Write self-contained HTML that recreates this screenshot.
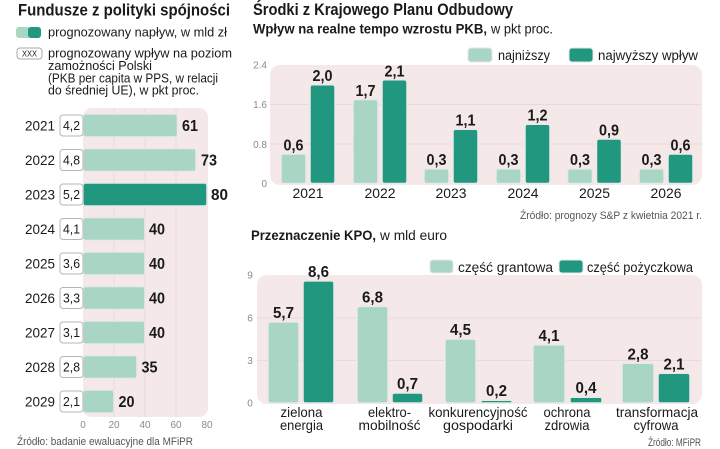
<!DOCTYPE html>
<html><head><meta charset="utf-8"><style>
html,body{margin:0;padding:0;background:#fff;}
svg{display:block;}
text{font-family:"Liberation Sans Narrow","Liberation Sans",sans-serif;fill:#1a1a1a;}
.b{font-weight:bold;}
.t{fill:#8a8a8a;font-size:10px;}
.s{fill:#555;font-size:11px;}
</style></head><body>
<svg width="720" height="449" viewBox="0 0 720 449" xmlns="http://www.w3.org/2000/svg">
<!-- LEFT PANEL -->
<text class="b" x="18" y="15.5" font-size="17" textLength="212" lengthAdjust="spacingAndGlyphs">Fundusze z polityki spójności</text>
<rect x="16" y="27" width="14" height="11" rx="3" fill="#a9d5c5"/>
<rect x="28" y="27" width="13" height="11" rx="3" fill="#20977e"/>
<text x="48" y="36.5" font-size="13" textLength="179" lengthAdjust="spacingAndGlyphs">prognozowany napływ, w mld zł</text>
<rect x="17" y="48" width="25" height="11" rx="3" fill="#fff" stroke="#aaa" stroke-width="1"/>
<text x="29.5" y="56.5" font-size="8" text-anchor="middle" textLength="15" lengthAdjust="spacingAndGlyphs">XXX</text>
<text x="48" y="57.5" font-size="13" textLength="184" lengthAdjust="spacingAndGlyphs">prognozowany wpływ na poziom</text>
<text x="48" y="70" font-size="13" textLength="104" lengthAdjust="spacingAndGlyphs">zamożności Polski</text>
<text x="48" y="82.3" font-size="13" textLength="170" lengthAdjust="spacingAndGlyphs">(PKB per capita w PPS, w relacji</text>
<text x="48" y="94.5" font-size="13" textLength="151" lengthAdjust="spacingAndGlyphs">do średniej UE), w pkt proc.</text>

<rect x="83" y="108" width="125" height="309" rx="9" fill="#f5e8e8"/>
<line x1="114" y1="108" x2="114" y2="417" stroke="#ecdada" stroke-width="1"/>
<line x1="145" y1="108" x2="145" y2="417" stroke="#ecdada" stroke-width="1"/>
<line x1="176" y1="108" x2="176" y2="417" stroke="#ecdada" stroke-width="1"/>

<g id="leftbars">
<!-- 2021 -->
<text x="25" y="130.5" font-size="13.5" textLength="30" lengthAdjust="spacingAndGlyphs">2021</text>
<rect x="83" y="114" width="94.5" height="23" rx="2.5" fill="#a9d5c5" stroke="#e9e9e9" stroke-width="1.5"/>
<rect x="60" y="115" width="23" height="21" rx="3" fill="#fff" stroke="#b5b5b5"/>
<text x="71.5" y="130" font-size="13" text-anchor="middle" textLength="17" lengthAdjust="spacingAndGlyphs">4,2</text>
<text class="b" x="182" y="131" font-size="16" textLength="16" lengthAdjust="spacingAndGlyphs">61</text>
<!-- 2022 -->
<text x="25" y="165" font-size="13.5" textLength="30" lengthAdjust="spacingAndGlyphs">2022</text>
<rect x="83" y="148.5" width="113" height="23" rx="2.5" fill="#a9d5c5" stroke="#e9e9e9" stroke-width="1.5"/>
<rect x="60" y="149.5" width="23" height="21" rx="3" fill="#fff" stroke="#b5b5b5"/>
<text x="71.5" y="164.5" font-size="13" text-anchor="middle" textLength="17" lengthAdjust="spacingAndGlyphs">4,8</text>
<text class="b" x="201" y="165.5" font-size="16" textLength="16" lengthAdjust="spacingAndGlyphs">73</text>
<!-- 2023 -->
<text x="25" y="199.5" font-size="13.5" textLength="30" lengthAdjust="spacingAndGlyphs">2023</text>
<rect x="83" y="183" width="124" height="23" rx="2.5" fill="#20977e" stroke="#e9e9e9" stroke-width="1.5"/>
<rect x="60" y="184" width="23" height="21" rx="3" fill="#fff" stroke="#b5b5b5"/>
<text x="71.5" y="199" font-size="13" text-anchor="middle" textLength="17" lengthAdjust="spacingAndGlyphs">5,2</text>
<text class="b" x="211" y="200" font-size="16" textLength="17" lengthAdjust="spacingAndGlyphs">80</text>
<!-- 2024 -->
<text x="25" y="234" font-size="13.5" textLength="30" lengthAdjust="spacingAndGlyphs">2024</text>
<rect x="83" y="217.5" width="62" height="23" rx="2.5" fill="#a9d5c5" stroke="#e9e9e9" stroke-width="1.5"/>
<rect x="60" y="218.5" width="23" height="21" rx="3" fill="#fff" stroke="#b5b5b5"/>
<text x="71.5" y="233.5" font-size="13" text-anchor="middle" textLength="17" lengthAdjust="spacingAndGlyphs">4,1</text>
<text class="b" x="149" y="234.5" font-size="16" textLength="16" lengthAdjust="spacingAndGlyphs">40</text>
<!-- 2025 -->
<text x="25" y="268.5" font-size="13.5" textLength="30" lengthAdjust="spacingAndGlyphs">2025</text>
<rect x="83" y="252" width="62" height="23" rx="2.5" fill="#a9d5c5" stroke="#e9e9e9" stroke-width="1.5"/>
<rect x="60" y="253" width="23" height="21" rx="3" fill="#fff" stroke="#b5b5b5"/>
<text x="71.5" y="268" font-size="13" text-anchor="middle" textLength="17" lengthAdjust="spacingAndGlyphs">3,6</text>
<text class="b" x="149" y="269" font-size="16" textLength="16" lengthAdjust="spacingAndGlyphs">40</text>
<!-- 2026 -->
<text x="25" y="303" font-size="13.5" textLength="30" lengthAdjust="spacingAndGlyphs">2026</text>
<rect x="83" y="286.5" width="62" height="23" rx="2.5" fill="#a9d5c5" stroke="#e9e9e9" stroke-width="1.5"/>
<rect x="60" y="287.5" width="23" height="21" rx="3" fill="#fff" stroke="#b5b5b5"/>
<text x="71.5" y="302.5" font-size="13" text-anchor="middle" textLength="17" lengthAdjust="spacingAndGlyphs">3,3</text>
<text class="b" x="149" y="303.5" font-size="16" textLength="16" lengthAdjust="spacingAndGlyphs">40</text>
<!-- 2027 -->
<text x="25" y="337.5" font-size="13.5" textLength="30" lengthAdjust="spacingAndGlyphs">2027</text>
<rect x="83" y="321" width="62" height="23" rx="2.5" fill="#a9d5c5" stroke="#e9e9e9" stroke-width="1.5"/>
<rect x="60" y="322" width="23" height="21" rx="3" fill="#fff" stroke="#b5b5b5"/>
<text x="71.5" y="337" font-size="13" text-anchor="middle" textLength="17" lengthAdjust="spacingAndGlyphs">3,1</text>
<text class="b" x="149" y="338" font-size="16" textLength="16" lengthAdjust="spacingAndGlyphs">40</text>
<!-- 2028 -->
<text x="25" y="372" font-size="13.5" textLength="30" lengthAdjust="spacingAndGlyphs">2028</text>
<rect x="83" y="355.5" width="54" height="23" rx="2.5" fill="#a9d5c5" stroke="#e9e9e9" stroke-width="1.5"/>
<rect x="60" y="356.5" width="23" height="21" rx="3" fill="#fff" stroke="#b5b5b5"/>
<text x="71.5" y="371.5" font-size="13" text-anchor="middle" textLength="17" lengthAdjust="spacingAndGlyphs">2,8</text>
<text class="b" x="141.5" y="372.5" font-size="16" textLength="16" lengthAdjust="spacingAndGlyphs">35</text>
<!-- 2029 -->
<text x="25" y="406.5" font-size="13.5" textLength="30" lengthAdjust="spacingAndGlyphs">2029</text>
<rect x="83" y="390" width="31" height="23" rx="2.5" fill="#a9d5c5" stroke="#e9e9e9" stroke-width="1.5"/>
<rect x="60" y="391" width="23" height="21" rx="3" fill="#fff" stroke="#b5b5b5"/>
<text x="71.5" y="406" font-size="13" text-anchor="middle" textLength="17" lengthAdjust="spacingAndGlyphs">2,1</text>
<text class="b" x="118.5" y="407" font-size="16" textLength="16" lengthAdjust="spacingAndGlyphs">20</text>
</g>
<text class="t" x="83" y="428" text-anchor="middle">0</text>
<text class="t" x="114" y="428" text-anchor="middle">20</text>
<text class="t" x="145" y="428" text-anchor="middle">40</text>
<text class="t" x="176" y="428" text-anchor="middle">60</text>
<text class="t" x="207" y="428" text-anchor="middle">80</text>
<text class="s" x="17" y="445" textLength="176" lengthAdjust="spacingAndGlyphs">Źródło: badanie ewaluacyjne dla MFiPR</text>

<!-- RIGHT TOP -->
<text class="b" x="253" y="15" font-size="17" textLength="260" lengthAdjust="spacingAndGlyphs">Środki z Krajowego Planu Odbudowy</text>
<text class="b" x="253" y="33.5" font-size="14" textLength="234" lengthAdjust="spacingAndGlyphs">Wpływ na realne tempo wzrostu PKB,</text>
<text x="491" y="33.5" font-size="14" textLength="62" lengthAdjust="spacingAndGlyphs">w pkt proc.</text>
<rect x="468" y="48" width="24" height="14" rx="3" fill="#a9d5c5" stroke="#e6e6e6"/>
<text x="498" y="60" font-size="13.5" textLength="52" lengthAdjust="spacingAndGlyphs">najniższy</text>
<rect x="569" y="48" width="24" height="14" rx="3" fill="#20977e" stroke="#e6e6e6"/>
<text x="598" y="60" font-size="13.5" textLength="100" lengthAdjust="spacingAndGlyphs">najwyższy wpływ</text>

<rect x="270" y="65" width="432" height="120" rx="10" fill="#f5e8e8"/>
<line x1="270" y1="104.5" x2="702" y2="104.5" stroke="#ecdada"/>
<line x1="270" y1="144" x2="702" y2="144" stroke="#ecdada"/>
<text class="t" x="267" y="68.5" text-anchor="end">2.4</text>
<text class="t" x="267" y="108" text-anchor="end">1.6</text>
<text class="t" x="267" y="148" text-anchor="end">0.8</text>
<text class="t" x="267" y="187" text-anchor="end">0</text>

<g>
<!-- 2021 -->
<rect x="281" y="154" width="25" height="29.5" rx="2.5" fill="#a9d5c5" stroke="#e9e9e9" stroke-width="1.5"/>
<rect x="310" y="84.7" width="25" height="98.8" rx="2.5" fill="#20977e" stroke="#e9e9e9" stroke-width="1.5"/>
<text class="b" x="293.5" y="150.5" font-size="16" text-anchor="middle" textLength="20" lengthAdjust="spacingAndGlyphs">0,6</text>
<text class="b" x="322.5" y="81.2" font-size="16" text-anchor="middle" textLength="20" lengthAdjust="spacingAndGlyphs">2,0</text>
<text x="308" y="198" font-size="14" text-anchor="middle" textLength="31" lengthAdjust="spacingAndGlyphs">2021</text>
<!-- 2022 -->
<rect x="353" y="99.5" width="25" height="84" rx="2.5" fill="#a9d5c5" stroke="#e9e9e9" stroke-width="1.5"/>
<rect x="382" y="79.8" width="25" height="103.7" rx="2.5" fill="#20977e" stroke="#e9e9e9" stroke-width="1.5"/>
<text class="b" x="365.5" y="96" font-size="16" text-anchor="middle" textLength="20" lengthAdjust="spacingAndGlyphs">1,7</text>
<text class="b" x="394.5" y="76.3" font-size="16" text-anchor="middle" textLength="20" lengthAdjust="spacingAndGlyphs">2,1</text>
<text x="380" y="198" font-size="14" text-anchor="middle" textLength="31" lengthAdjust="spacingAndGlyphs">2022</text>
<!-- 2023 -->
<rect x="424" y="168.7" width="25" height="14.8" rx="2.5" fill="#a9d5c5" stroke="#e9e9e9" stroke-width="1.5"/>
<rect x="453" y="129.2" width="25" height="54.3" rx="2.5" fill="#20977e" stroke="#e9e9e9" stroke-width="1.5"/>
<text class="b" x="436.5" y="165.2" font-size="16" text-anchor="middle" textLength="20" lengthAdjust="spacingAndGlyphs">0,3</text>
<text class="b" x="465.5" y="125.7" font-size="16" text-anchor="middle" textLength="20" lengthAdjust="spacingAndGlyphs">1,1</text>
<text x="451" y="198" font-size="14" text-anchor="middle" textLength="31" lengthAdjust="spacingAndGlyphs">2023</text>
<!-- 2024 -->
<rect x="496" y="168.7" width="25" height="14.8" rx="2.5" fill="#a9d5c5" stroke="#e9e9e9" stroke-width="1.5"/>
<rect x="525" y="124.2" width="25" height="59.3" rx="2.5" fill="#20977e" stroke="#e9e9e9" stroke-width="1.5"/>
<text class="b" x="508.5" y="165.2" font-size="16" text-anchor="middle" textLength="20" lengthAdjust="spacingAndGlyphs">0,3</text>
<text class="b" x="537.5" y="120.7" font-size="16" text-anchor="middle" textLength="20" lengthAdjust="spacingAndGlyphs">1,2</text>
<text x="523" y="198" font-size="14" text-anchor="middle" textLength="31" lengthAdjust="spacingAndGlyphs">2024</text>
<!-- 2025 -->
<rect x="567.5" y="168.7" width="25" height="14.8" rx="2.5" fill="#a9d5c5" stroke="#e9e9e9" stroke-width="1.5"/>
<rect x="596.5" y="139" width="25" height="44.5" rx="2.5" fill="#20977e" stroke="#e9e9e9" stroke-width="1.5"/>
<text class="b" x="580" y="165.2" font-size="16" text-anchor="middle" textLength="20" lengthAdjust="spacingAndGlyphs">0,3</text>
<text class="b" x="609" y="135.5" font-size="16" text-anchor="middle" textLength="20" lengthAdjust="spacingAndGlyphs">0,9</text>
<text x="594.5" y="198" font-size="14" text-anchor="middle" textLength="31" lengthAdjust="spacingAndGlyphs">2025</text>
<!-- 2026 -->
<rect x="639" y="168.7" width="25" height="14.8" rx="2.5" fill="#a9d5c5" stroke="#e9e9e9" stroke-width="1.5"/>
<rect x="668" y="154" width="25" height="29.5" rx="2.5" fill="#20977e" stroke="#e9e9e9" stroke-width="1.5"/>
<text class="b" x="651.5" y="165.2" font-size="16" text-anchor="middle" textLength="20" lengthAdjust="spacingAndGlyphs">0,3</text>
<text class="b" x="680.5" y="150.5" font-size="16" text-anchor="middle" textLength="20" lengthAdjust="spacingAndGlyphs">0,6</text>
<text x="666" y="198" font-size="14" text-anchor="middle" textLength="31" lengthAdjust="spacingAndGlyphs">2026</text>
</g>
<text class="s" x="702" y="219" font-size="10.5" text-anchor="end" textLength="182" lengthAdjust="spacingAndGlyphs">Źródło: prognozy S&amp;P z kwietnia 2021 r.</text>

<!-- RIGHT BOTTOM -->
<text class="b" x="251" y="240" font-size="14" textLength="125" lengthAdjust="spacingAndGlyphs">Przeznaczenie KPO,</text>
<text x="380" y="240" font-size="14" textLength="67" lengthAdjust="spacingAndGlyphs">w mld euro</text>
<rect x="430" y="260" width="23" height="13" rx="3" fill="#a9d5c5" stroke="#e6e6e6"/>
<text x="458" y="272" font-size="13.5" textLength="95" lengthAdjust="spacingAndGlyphs">część grantowa</text>
<rect x="559" y="260" width="24" height="13" rx="3" fill="#20977e" stroke="#e6e6e6"/>
<text x="587" y="272" font-size="13.5" textLength="106" lengthAdjust="spacingAndGlyphs">część pożyczkowa</text>

<rect x="257" y="275" width="445" height="129" rx="10" fill="#f5e8e8"/>
<line x1="257" y1="318" x2="702" y2="318" stroke="#ecdada"/>
<line x1="257" y1="360.5" x2="702" y2="360.5" stroke="#ecdada"/>
<text class="t" x="250" y="278.5" text-anchor="middle">9</text>
<text class="t" x="250" y="321.5" text-anchor="middle">6</text>
<text class="t" x="250" y="364" text-anchor="middle">3</text>
<text class="t" x="250" y="406.5" text-anchor="middle">0</text>

<g>
<!-- zielona -->
<rect x="268" y="322" width="31" height="81" rx="2.5" fill="#a9d5c5" stroke="#e9e9e9" stroke-width="1.5"/>
<rect x="303" y="280.9" width="31" height="122.1" rx="2.5" fill="#20977e" stroke="#e9e9e9" stroke-width="1.5"/>
<text class="b" x="283.5" y="318" font-size="16" text-anchor="middle" textLength="21" lengthAdjust="spacingAndGlyphs">5,7</text>
<text class="b" x="318.5" y="277" font-size="16" text-anchor="middle" textLength="21" lengthAdjust="spacingAndGlyphs">8,6</text>
<text x="301.5" y="417" font-size="14" text-anchor="middle" textLength="42" lengthAdjust="spacingAndGlyphs">zielona</text>
<text x="301.5" y="430" font-size="14" text-anchor="middle" textLength="43" lengthAdjust="spacingAndGlyphs">energia</text>
<!-- elektro -->
<rect x="357" y="306.4" width="31" height="96.6" rx="2.5" fill="#a9d5c5" stroke="#e9e9e9" stroke-width="1.5"/>
<rect x="392" y="393" width="31" height="10" rx="2.5" fill="#20977e" stroke="#e9e9e9" stroke-width="1.5"/>
<text class="b" x="372.5" y="302.5" font-size="16" text-anchor="middle" textLength="21" lengthAdjust="spacingAndGlyphs">6,8</text>
<text class="b" x="407.5" y="389" font-size="16" text-anchor="middle" textLength="21" lengthAdjust="spacingAndGlyphs">0,7</text>
<text x="389.5" y="417" font-size="14" text-anchor="middle" textLength="43" lengthAdjust="spacingAndGlyphs">elektro-</text>
<text x="389.5" y="430" font-size="14" text-anchor="middle" textLength="62" lengthAdjust="spacingAndGlyphs">mobilność</text>
<!-- konkurencyjnosc -->
<rect x="445" y="339.1" width="31" height="63.9" rx="2.5" fill="#a9d5c5" stroke="#e9e9e9" stroke-width="1.5"/>
<rect x="481" y="400.2" width="31" height="2.8" rx="1" fill="#20977e" stroke="#e9e9e9" stroke-width="1.5"/>
<text class="b" x="460.5" y="335" font-size="16" text-anchor="middle" textLength="21" lengthAdjust="spacingAndGlyphs">4,5</text>
<text class="b" x="496.5" y="396" font-size="16" text-anchor="middle" textLength="21" lengthAdjust="spacingAndGlyphs">0,2</text>
<text x="478" y="417" font-size="14" text-anchor="middle" textLength="99" lengthAdjust="spacingAndGlyphs">konkurencyjność</text>
<text x="478" y="430" font-size="14" text-anchor="middle" textLength="70" lengthAdjust="spacingAndGlyphs">gospodarki</text>
<!-- ochrona -->
<rect x="533" y="344.8" width="32" height="58.2" rx="2.5" fill="#a9d5c5" stroke="#e9e9e9" stroke-width="1.5"/>
<rect x="570" y="397.3" width="32" height="5.7" rx="1.5" fill="#20977e" stroke="#e9e9e9" stroke-width="1.5"/>
<text class="b" x="549" y="341" font-size="16" text-anchor="middle" textLength="21" lengthAdjust="spacingAndGlyphs">4,1</text>
<text class="b" x="586" y="393" font-size="16" text-anchor="middle" textLength="21" lengthAdjust="spacingAndGlyphs">0,4</text>
<text x="567" y="417" font-size="14" text-anchor="middle" textLength="47" lengthAdjust="spacingAndGlyphs">ochrona</text>
<text x="567" y="430" font-size="14" text-anchor="middle" textLength="45" lengthAdjust="spacingAndGlyphs">zdrowia</text>
<!-- transformacja -->
<rect x="622" y="363.2" width="32" height="39.8" rx="2.5" fill="#a9d5c5" stroke="#e9e9e9" stroke-width="1.5"/>
<rect x="658" y="373.2" width="32" height="29.8" rx="2.5" fill="#20977e" stroke="#e9e9e9" stroke-width="1.5"/>
<text class="b" x="638" y="359.5" font-size="16" text-anchor="middle" textLength="21" lengthAdjust="spacingAndGlyphs">2,8</text>
<text class="b" x="674" y="369.5" font-size="16" text-anchor="middle" textLength="21" lengthAdjust="spacingAndGlyphs">2,1</text>
<text x="657" y="417" font-size="14" text-anchor="middle" textLength="82" lengthAdjust="spacingAndGlyphs">transformacja</text>
<text x="656" y="430" font-size="14" text-anchor="middle" textLength="45" lengthAdjust="spacingAndGlyphs">cyfrowa</text>
</g>
<text class="s" x="701" y="446" font-size="10.5" text-anchor="end" textLength="53" lengthAdjust="spacingAndGlyphs">Źródło: MFiPR</text>
</svg>
</body></html>
